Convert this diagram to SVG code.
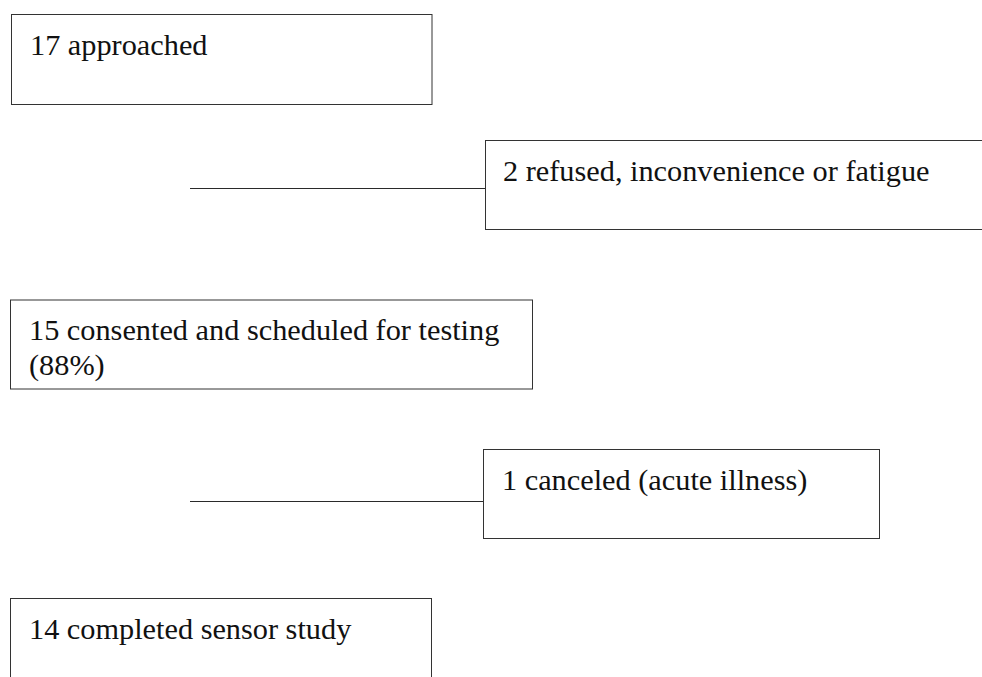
<svg xmlns="http://www.w3.org/2000/svg" width="982" height="677" viewBox="0 0 982 677">
  <style>
    .box { fill: #ffffff; stroke: #333333; stroke-width: 1; }
    .lbl { font-family: "Liberation Serif", "Times New Roman", serif; font-size: 30.3px; fill: #111111; }
    .link { stroke: #2a2a2a; stroke-width: 1.2; fill: none; }
  </style>
  <rect width="982" height="677" fill="#ffffff"/>

  <!-- connectors -->
  <g id="connectors">
    <line class="link" x1="190" y1="188.5" x2="486" y2="188.5"/>
    <line class="link" x1="190" y1="501.5" x2="483.5" y2="501.5"/>
  </g>

  <!-- participant flow boxes -->
  <g id="approached">
    <rect class="box" x="11.5" y="14.5" width="420.5" height="90"/>
    <text class="lbl" x="30" y="54.5">17 approached</text>
  </g>

  <g id="refused">
    <rect class="box" x="485.5" y="140.5" width="510" height="89"/>
    <text class="lbl" x="503" y="181">2 refused, inconvenience or fatigue</text>
  </g>

  <g id="consented">
    <rect class="box" x="10.5" y="300" width="522" height="89"/>
    <text class="lbl" x="29" y="340">15 consented and scheduled for testing</text>
    <text class="lbl" x="29" y="374.5">(88%)</text>
  </g>

  <g id="canceled">
    <rect class="box" x="483.5" y="449.5" width="396" height="89"/>
    <text class="lbl" x="502" y="490">1 canceled (acute illness)</text>
  </g>

  <g id="completed">
    <rect class="box" x="10.5" y="598.5" width="421" height="100"/>
    <text class="lbl" x="29" y="638.5">14 completed sensor study</text>
  </g>
</svg>
